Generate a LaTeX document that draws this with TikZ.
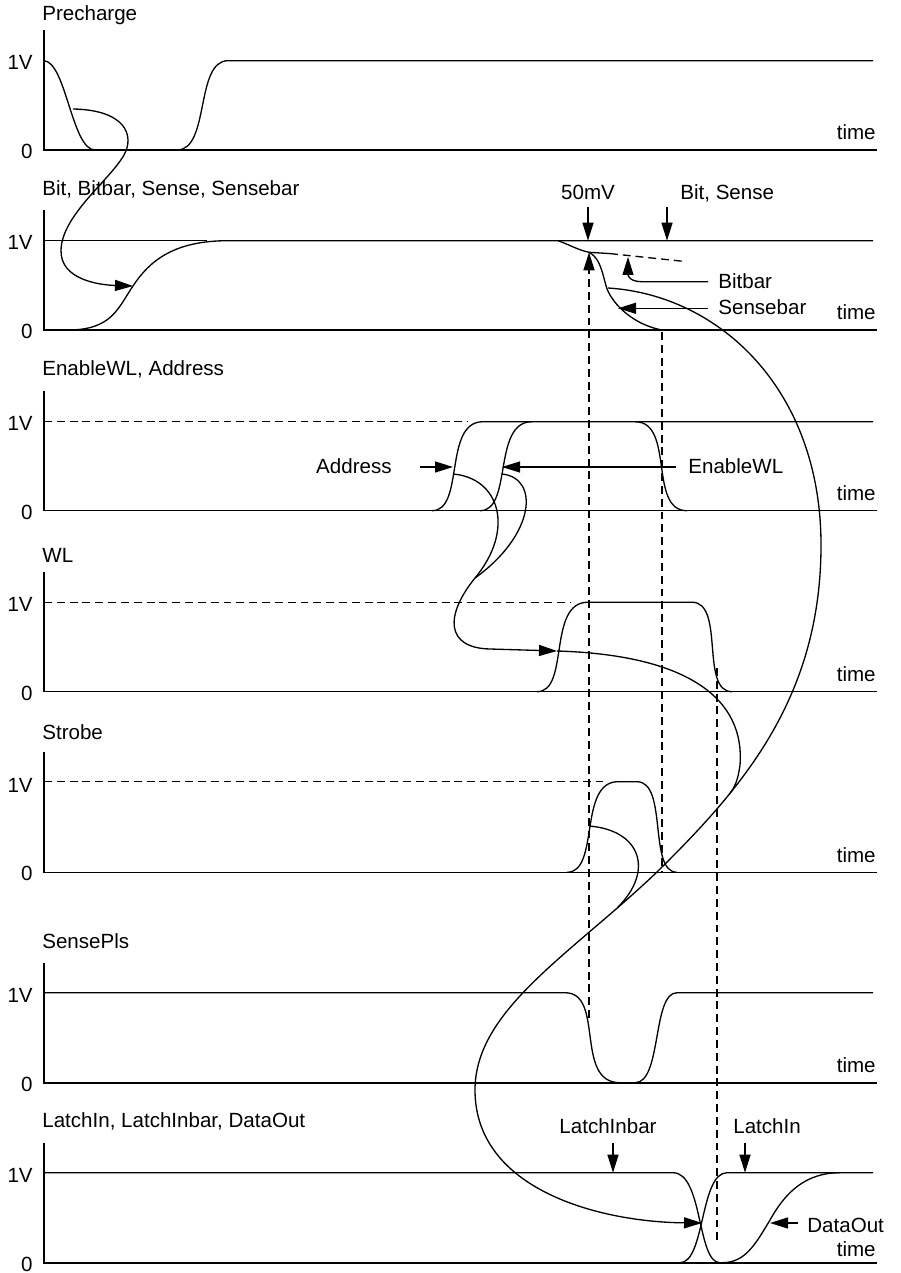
\documentclass[tikz,border=0pt]{standalone}
\usepackage{fontspec}
\setmainfont{Liberation Sans}
\usetikzlibrary{arrows.meta}
\tikzset{
  sig/.style={line width=0.75pt},
  ax/.style={line width=0.9pt},
  dsh/.style={line width=0.75pt, dash pattern=on 4.5pt off 2.8pt},
  arr/.style={line width=0.75pt, -{Triangle[length=0.36cm,width=0.22cm]}},
  lbl/.style={font=\fontsize{11.7}{14}\selectfont, inner sep=0pt},
}
\newcommand\wavepanel[5]{%
  \draw[ax] (44,#1-120) -- (44,#1) -- (877,#1);
  \node[lbl,anchor=base east] (#4one) at (33,#1-80) {1V};
  \node[lbl,anchor=base east] (#4zero) at (33,#1+8.5) {0};
  \node[lbl,anchor=base west] (#4title) at (42,#3) {#2};
  \node[lbl,anchor=base east] (#4time) at (876,#5) {time};
}
\begin{document}
\begin{tikzpicture}[x=0.02cm,y=-0.02cm]
\useasboundingbox (0,0) rectangle (900,1273);

% panels
\wavepanel{150}{Precharge}{21}{pc}{140}
\wavepanel{330}{Bit, Bitbar, Sense, Sensebar}{196}{bt}{320}
\wavepanel{510.7}{EnableWL, Address}{376}{en}{500.7}
\wavepanel{691.7}{WL}{562}{wl}{681.7}
\wavepanel{872.3}{Strobe}{739}{st}{862.3}
\wavepanel{1082.7}{SensePls}{948}{sp}{1072.7}
\wavepanel{1262.7}{LatchIn, LatchInbar, DataOut}{1127}{li}{1256}

% Precharge
\draw[sig] (44,60.7) .. controls (66,62) and (72,150) .. (95,150);
\draw[sig] (177,150) .. controls (210,150) and (195,60.7) .. (228,60.7) -- (873,60.7);

% Bit / Bitbar / Sense / Sensebar
\draw[sig] (44,240.7) -- (207,240.7);
\draw[sig] (68,330) .. controls (112,330) and (118,308) .. (133,286)
  .. controls (150,260) and (175,240.7) .. (228,240.7) -- (873,240.7);
\draw[sig] (558,240.7) .. controls (570,245) and (578,250) .. (589,252.3) -- (610,253.6);
\draw[dsh] (610,253.6) -- (683,261.3);
\draw[sig] (589,252.3) .. controls (604,260) and (603,285) .. (610,295)
  .. controls (620,312) and (640,326) .. (662,330);

% EnableWL / Address
\draw[dsh] (44,421.7) -- (468,421.7);
\draw[sig] (432,510.7) .. controls (465,510.7) and (443,421.7) .. (483,421.7) -- (873,421.7);
\draw[sig] (480,510.7) .. controls (513,510.7) and (492,421.7) .. (532,421.7);
\draw[sig] (635,421.7) .. controls (675,421.7) and (648,510.7) .. (687,510.7);

% WL
\draw[dsh] (44,602.2) -- (570,602.2);
\draw[sig] (537,691.7) .. controls (570,691.7) and (547,602.2) .. (588,602.2) -- (692,602.2)
  .. controls (725,602.2) and (700,691.7) .. (732,691.7);

% Strobe
\draw[dsh] (44,781.7) -- (607,781.7);
\draw[sig] (567,872.3) .. controls (600,872.3) and (578,781.7) .. (618,781.7) -- (637,781.7)
  .. controls (668,781.7) and (648,872.3) .. (677,872.3);

% SensePls
\draw[sig] (44,992.7) -- (565,992.7) .. controls (605,992.7) and (574,1082.7) .. (620,1082.7)
  -- (635,1082.7) .. controls (662,1082.7) and (652,992.7) .. (677,992.7) -- (873,992.7);

% LatchIn / LatchInbar / DataOut
\draw[sig] (44,1172.7) -- (673,1172.7) .. controls (703,1172.7) and (697,1262.7) .. (720,1262.7);
\draw[sig] (680,1262.7) .. controls (705,1262.7) and (700,1172.7) .. (727,1172.7) -- (873,1172.7);
\draw[sig] (722,1262.7) .. controls (745,1262.7) and (755,1245) .. (770,1220)
  .. controls (785,1193) and (805,1172.7) .. (840,1172.7);

% dashed verticals
\coordinate (bbpt) at (589,252.3);
\coordinate (dv1) at (589,1018);
\draw[dsh,-{Triangle[length=0.36cm,width=0.22cm]}] (dv1) -- (bbpt);
\coordinate (dv2a) at (662,332);
\coordinate (dv2b) at (662,872.3);
\draw[dsh] (dv2a) -- (dv2b);
\coordinate (dv3a) at (717,668);
\coordinate (dv3b) at (717,1243);
\draw[dsh] (dv3a) -- (dv3b);

% labels with arrows, Bit panel
\node[lbl,anchor=base] (mv) at (588,200) {50mV};
\coordinate (mva) at (588,207);
\coordinate (mvtip) at (588,240.7);
\draw[arr] (mva) -- (mvtip);
\node[lbl,anchor=base west] (bs) at (680,200) {Bit, Sense};
\coordinate (bsa) at (667,207);
\coordinate (bstip) at (667,240.7);
\draw[arr] (bsa) -- (bstip);
\node[lbl,anchor=base west] (bb) at (718,289) {Bitbar};
\coordinate (bba) at (708,281.7);
\coordinate (bbtip) at (628,257);
\draw[arr] (bba) -- (642,281.7) .. controls (630,281.7) and (628,276) .. (bbtip);
\node[lbl,anchor=base west] (sb) at (718,315) {Sensebar};
\coordinate (sba) at (708,308.3);
\coordinate (sbtip) at (618,308.3);
\draw[arr] (sba) -- (sbtip);

% labels with arrows, EnableWL panel
\node[lbl,anchor=base east] (addr) at (392,473) {Address};
\coordinate (addra) at (420,467);
\coordinate (addrtip) at (453,467);
\draw[arr] (addra) -- (addrtip);
\node[lbl,anchor=base west] (enl) at (688,473) {EnableWL};
\coordinate (enla) at (676,467);
\coordinate (enltip) at (502,467);
\draw[arr] (enla) -- (enltip);

% labels with arrows, LatchIn panel
\node[lbl,anchor=base] (lib) at (608,1133) {LatchInbar};
\coordinate (liba) at (613,1143);
\coordinate (libtip) at (613,1172.7);
\draw[arr] (liba) -- (libtip);
\node[lbl,anchor=base west] (lin) at (733,1133) {LatchIn};
\coordinate (lina) at (745,1143);
\coordinate (lintip) at (745,1172.7);
\draw[arr] (lina) -- (lintip);
\node[lbl,anchor=base west] (dout) at (807,1232) {DataOut};
\coordinate (douta) at (798,1223);
\coordinate (douttip) at (770,1223);
\draw[arr] (douta) -- (douttip);

% causal arrows
\coordinate (pcs) at (73,109);
\coordinate (bttip) at (133,286);
\draw[arr] (pcs) .. controls (125,110) and (135,135) .. (124,155)
  .. controls (110,180) and (62,215) .. (61,250)
  .. controls (60,280) and (100,285) .. (bttip);

\coordinate (ads) at (453,474);
\coordinate (ens) at (502,474);
\coordinate (m1) at (475,578);
\coordinate (wltip) at (557,651);
\draw[sig] (ads) .. controls (500,478) and (515,530) .. (m1);
\draw[sig] (ens) .. controls (540,478) and (535,535) .. (m1);
\draw[arr] (m1) .. controls (445,615) and (445,648) .. (490,649) -- (wltip);

\coordinate (sbs) at (608,288);
\coordinate (arcR) at (821,545);
\coordinate (arcM) at (657,872);
\coordinate (arcL) at (475,1090);
\coordinate (litip) at (702,1223);
\draw[arr] (sbs) .. controls (720,295) and (821,390) .. (arcR)
  .. controls (821,700) and (740,790) .. (arcM)
  .. controls (570,955) and (475,1010) .. (arcL)
  .. controls (475,1190) and (600,1222) .. (litip);

\coordinate (wls) at (557,651);
\coordinate (wlj) at (729,794.5);
\draw[sig] (wls) .. controls (690,655) and (745,700) .. (740,765)
  .. controls (738,780) and (735,787) .. (wlj);

\coordinate (sts) at (589,826);
\coordinate (stj) at (617.6,907.5);
\draw[sig] (sts) .. controls (640,830) and (655,870) .. (stj);

\end{tikzpicture}
\end{document}
